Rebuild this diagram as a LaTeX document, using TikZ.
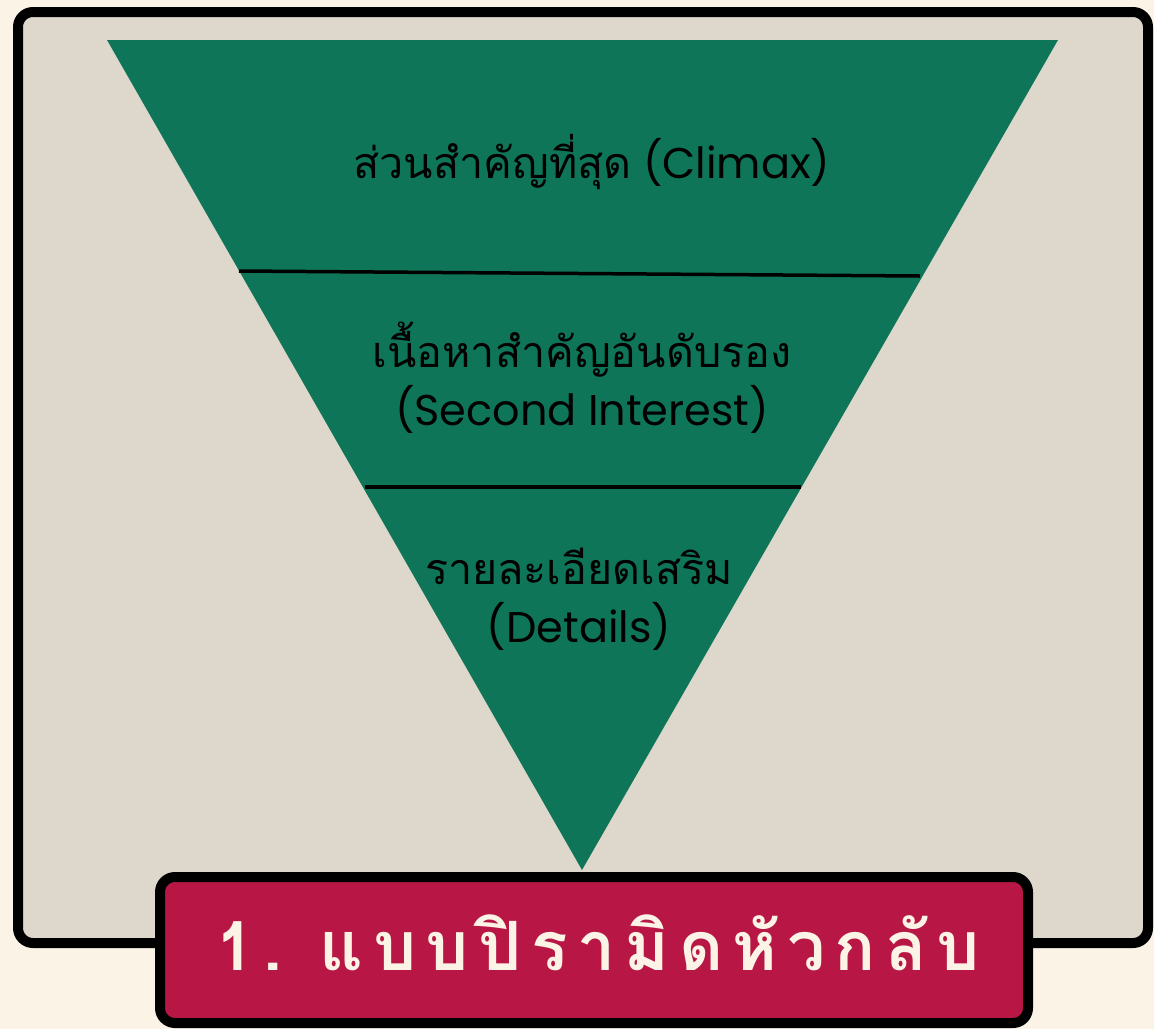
\documentclass[tikz,border=0pt]{standalone}
\usepackage{fontspec}
\setmainfont{Poppins}
\newfontfamily\thaifont[Script=Thai]{Loma}
\newfontfamily\thaititle[Script=Thai,LetterSpace=14]{Loma}
\definecolor{cream}{HTML}{FAF3E6}
\definecolor{panel}{HTML}{DED7CB}
\definecolor{pgreen}{HTML}{0F7559}
\definecolor{tred}{HTML}{B81746}
\tikzset{
  divider/.style={line width=3.5pt, black},
  bodytext/.style={text=black, align=center, font=\fontsize{43}{58}\selectfont},
}
\begin{document}
\begin{tikzpicture}[x=1pt,y=-1pt]
\useasboundingbox (0,0) rectangle (1154,1029);
\fill[cream] (0,0) rectangle (1154,1029);
% panel
\draw[line width=10pt, rounded corners=15pt, fill=panel] (18,12) rectangle (1148,943);
% triangle
\coordinate (tl) at (107,40);
\coordinate (tr) at (1058,40);
\coordinate (ap) at (582,870);
\fill[pgreen] (tl) -- (tr) -- (ap) -- cycle;
\coordinate (d1a) at (239,271);
\coordinate (d1b) at (920,276);
\coordinate (d2a) at (365,487);
\coordinate (d2b) at (801,487);
\draw[divider] (d1a) -- (d1b);
\draw[divider] (d2a) -- (d2b);
% texts
\node[bodytext] (t1) at (592,162) {{\thaifont ส่วนสำคัญที่สุด} (Climax)};
\node[bodytext] (t2) at (582,378) {{\thaifont เนื้อหาสำคัญอันดับรอง}\\(Second Interest)};
\node[bodytext] (t3) at (579,599) {{\thaifont รายละเอียดเสริม}\\(Details)};
% title box
\draw[line width=10pt, rounded corners=15pt, fill=tred] (160,877) rectangle (1028,1023);
\node[text=cream, font=\fontsize{68}{76}\selectfont\bfseries\thaititle] (title) at (598,943) {1.\hspace{-6pt} แบบปิรามิดหัวกลับ};
\end{tikzpicture}
\end{document}
